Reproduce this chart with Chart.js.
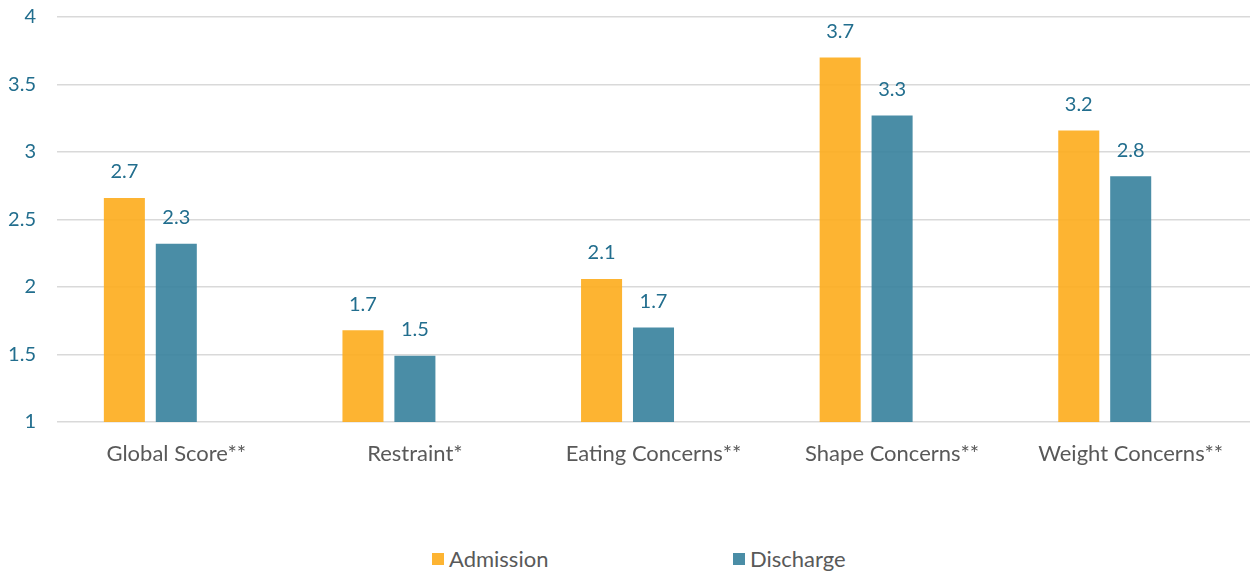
<!DOCTYPE html>
<html>
<head>
<meta charset="utf-8">
<script src="https://cdn.jsdelivr.net/npm/chart.js@4.4.1/dist/chart.umd.min.js"></script>
<style>
    html, body { margin: 0; padding: 0; background: #fff; }
    body { width: 1250px; height: 573px; position: relative; overflow: hidden; font-family: Lato, 'Open Sans', sans-serif; }
    #chartBox { position: absolute; left: 0; top: -16px; width: 1250px; height: 496px; }
    #legend { position: absolute; top: 545px; left: 0; width: 1250px; height: 26px; }
    .item { position: absolute; top: 0; display: flex; align-items: center; font-size: 22px; color: #595959; }
    .item span.box { display: inline-block; width: 12px; height: 12px; margin-right: 5px; }
</style>
</head>
<body>
<div id="chartBox"><canvas id="edeqChart"></canvas></div>
<div id="legend"></div>

<script>
const categories = ['Global Score**', 'Restraint*', 'Eating Concerns**', 'Shape Concerns**', 'Weight Concerns**'];
const admission = [2.66, 1.68, 2.06, 3.70, 3.16];
const discharge = [2.32, 1.49, 1.70, 3.27, 2.82];
const yTicks = [1, 1.5, 2, 2.5, 3, 3.5, 4];

const orange = 'rgba(253, 172, 28, 0.9)';
const teal = 'rgba(54, 129, 156, 0.9)';
const labelColor = '#226E8E';
const textGray = '#595959';

// value labels above each bar, one decimal
const barLabels = {
    id: 'barLabels',
    afterDatasetsDraw(chart) {
        const ctx = chart.ctx;
        ctx.save();
        ctx.font = '20px Lato';
        ctx.fillStyle = labelColor;
        ctx.textAlign = 'center';
        ctx.textBaseline = 'middle';
        chart.data.datasets.forEach((ds, i) => {
            const meta = chart.getDatasetMeta(i);
            meta.data.forEach((bar, j) => {
                const v = ds.data[j];
                if (v == null) return;
                ctx.fillText((Math.round(v * 10) / 10).toFixed(1), bar.x, bar.y - 26);
            });
        });
        ctx.restore();
    }
};

const ctx = document.getElementById('edeqChart').getContext('2d');

new Chart(ctx, {
    type: 'bar',
    data: {
        labels: categories,
        datasets: [
            { label: 'Admission', data: admission, backgroundColor: orange },
            { label: 'Discharge', data: discharge, backgroundColor: teal },
            // empty third slot keeps the pair left of the category centre
            { label: '', data: [], backgroundColor: 'rgba(0,0,0,0)' }
        ]
    },
    options: {
        responsive: true,
        maintainAspectRatio: false,
        animation: false,
        layout: { padding: 0 },
        datasets: {
            bar: { categoryPercentage: 0.653, barPercentage: 0.79 }
        },
        plugins: {
            legend: { display: false },
            tooltip: { enabled: false }
        },
        scales: {
            y: {
                min: 1,
                max: 4,
                afterBuildTicks(scale) {
                    scale.ticks = yTicks.map(v => ({ value: v }));
                },
                afterFit(scale) { scale.width = 57; },
                border: { display: false },
                grid: { color: '#D9D9D9', lineWidth: 1.5, drawTicks: false },
                ticks: {
                    color: labelColor,
                    padding: 21,
                    font: { family: 'Lato', size: 20 },
                    callback: v => String(v)
                }
            },
            x: {
                afterFit(scale) { scale.height = 58; },
                border: { display: false },
                grid: { display: false },
                ticks: {
                    color: textGray,
                    padding: 11,
                    font: { family: 'Lato', size: 22 }
                }
            }
        }
    },
    plugins: [barLabels]
});

// legend under the chart
const legendEl = document.getElementById('legend');
[['Admission', orange, 432], ['Discharge', teal, 733]].forEach(([name, color, left]) => {
    const item = document.createElement('div');
    item.className = 'item';
    item.style.left = left + 'px';
    item.innerHTML = '<span class="box" style="background:' + color + '"></span>' + name;
    legendEl.appendChild(item);
});
</script>
</body>
</html>
